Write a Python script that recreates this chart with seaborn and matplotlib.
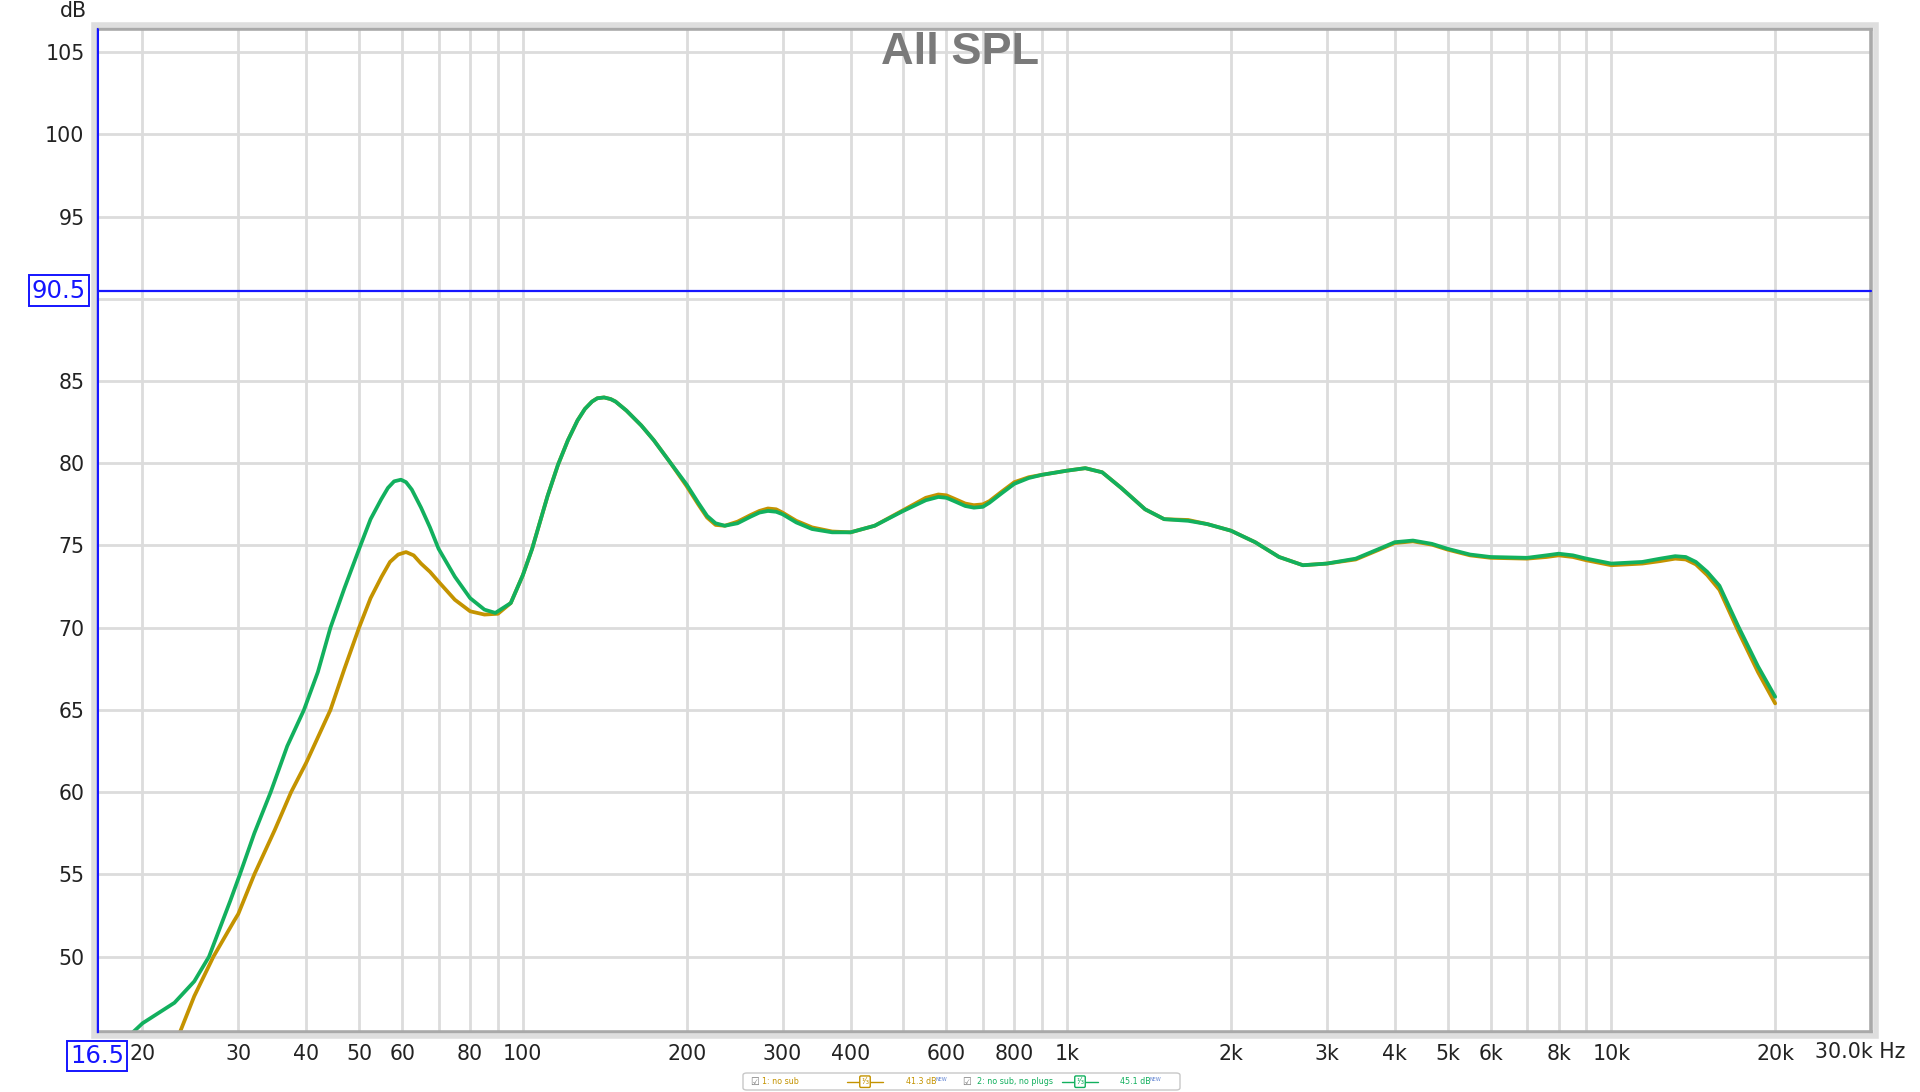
import numpy as np
import pandas as pd
import matplotlib
matplotlib.use("Agg")
import matplotlib.pyplot as plt
import matplotlib.ticker as mticker
from matplotlib import transforms
from matplotlib.patches import Rectangle, FancyBboxPatch
from matplotlib.lines import Line2D
import seaborn as sns

# ---------------- data ----------------
series_names = ["1: no sub", "2: no sub, no plugs"]

freq_orange_low = [23.3, 24.9, 27.0, 29.5, 30.0, 32.1, 35.0, 37.5, 40.0, 44.3, 47.0, 50.0,
                   52.5, 55.0, 57.0, 59.0, 61.0, 63.0, 65.0, 67.5, 70.0, 75.0, 80.0, 85.0,
                   90.0, 95.0]
spl_orange_low = [45.2, 47.6, 50.0, 52.2, 52.6, 55.0, 57.7, 60.0, 61.8, 65.0, 67.5, 70.0,
                  71.8, 73.1, 74.0, 74.45, 74.6, 74.4, 73.9, 73.4, 72.8, 71.7, 71.0, 70.8,
                  70.85, 71.5]

freq_green_low = [19.2, 20.0, 22.9, 24.9, 26.5, 29.0, 30.2, 32.1, 34.4, 36.9, 39.6, 42.0,
                  44.3, 47.0, 50.3, 52.5, 54.9, 56.5, 58.0, 59.7, 61.0, 62.5, 65.0, 67.5,
                  70.0, 75.0, 80.0, 85.0, 89.0, 95.0]
spl_green_low = [45.4, 45.95, 47.2, 48.5, 50.0, 53.4, 55.0, 57.5, 60.0, 62.8, 65.0, 67.3,
                 70.0, 72.4, 75.0, 76.6, 77.8, 78.5, 78.9, 79.0, 78.85, 78.4, 77.3, 76.1,
                 74.8, 73.1, 71.8, 71.1, 70.9, 71.5]

freq_high = [100, 104, 107, 111, 116, 121, 126, 130, 134, 137, 141, 145, 148, 155, 165, 174,
             186, 200, 210, 218, 226, 235, 248, 262, 272, 282, 292, 300, 318, 340, 370, 400,
             443, 500, 550, 580, 600, 620, 650, 674, 700, 720, 760, 800, 850, 900, 1000, 1080,
             1160, 1257, 1391, 1508, 1669, 1810, 2000, 2216, 2452, 2712, 3000, 3391, 3747,
             4000, 4320, 4680, 5000, 5500, 6000, 7000, 7600, 8000, 8500, 9000, 10000, 11400,
             12300, 13100, 13700, 14300, 15000, 15800, 17100, 18600, 20000]
spl_green_high = [73.2, 74.8, 76.2, 78.0, 79.9, 81.4, 82.6, 83.3, 83.75, 83.95, 84.0, 83.9,
                  83.75, 83.2, 82.3, 81.4, 80.1, 78.7, 77.6, 76.8, 76.35, 76.2, 76.35, 76.75,
                  77.0, 77.1, 77.05, 76.9, 76.4, 76.0, 75.8, 75.8, 76.2, 77.1, 77.75, 77.95,
                  77.9, 77.7, 77.4, 77.3, 77.35, 77.6, 78.2, 78.75, 79.1, 79.3, 79.55, 79.7,
                  79.45, 78.5, 77.2, 76.6, 76.5, 76.3, 75.9, 75.2, 74.3, 73.8, 73.9, 74.2,
                  74.8, 75.2, 75.3, 75.1, 74.8, 74.45, 74.3, 74.25, 74.4, 74.5, 74.4, 74.2,
                  73.9, 74.0, 74.2, 74.35, 74.3, 74.0, 73.4, 72.55, 70.1, 67.65, 65.8]
spl_orange_high = [73.2, 74.8, 76.2, 78.0, 79.9, 81.4, 82.6, 83.3, 83.75, 83.95, 84.0, 83.9,
                   83.75, 83.2, 82.3, 81.4, 80.1, 78.6, 77.5, 76.7, 76.25, 76.2, 76.45, 76.85,
                   77.1, 77.25, 77.2, 77.0, 76.5, 76.1, 75.85, 75.8, 76.2, 77.15, 77.9, 78.1,
                   78.05, 77.85, 77.55, 77.45, 77.5, 77.7, 78.3, 78.85, 79.15, 79.3, 79.55, 79.7,
                   79.45, 78.5, 77.2, 76.6, 76.55, 76.3, 75.9, 75.2, 74.3, 73.8, 73.9, 74.15,
                   74.75, 75.15, 75.25, 75.05, 74.75, 74.4, 74.25, 74.2, 74.3, 74.4, 74.3, 74.1,
                   73.8, 73.9, 74.05, 74.2, 74.15, 73.85, 73.2, 72.3, 69.8, 67.3, 65.4]

x_tick_values = [20, 30, 40, 50, 60, 70, 80, 90, 100, 200, 300, 400, 500, 600, 700, 800, 900,
                 1000, 2000, 3000, 4000, 5000, 6000, 7000, 8000, 9000, 10000, 20000]
x_tick_labels = ["20", "30", "40", "50", "60", "", "80", "", "100", "200", "300", "400", "",
                 "600", "", "800", "", "1k", "2k", "3k", "4k", "5k", "6k", "", "8k", "", "10k", "20k"]
y_tick_values = [50, 55, 60, 65, 70, 75, 80, 85, 90, 95, 100, 105]
y_tick_labels = ["50", "55", "60", "65", "70", "75", "80", "85", "", "95", "100", "105"]

cursor_freq = 16.5
cursor_spl = 90.5
x_max = 30000
legend_offsets = ["41.3 dB", "45.1 dB"]

# ---------------- build frame ----------------
df = pd.concat([
    pd.DataFrame({"freq": freq_orange_low + freq_high,
                  "spl": spl_orange_low + spl_orange_high,
                  "series": series_names[0]}),
    pd.DataFrame({"freq": freq_green_low + freq_high,
                  "spl": spl_green_low + spl_green_high,
                  "series": series_names[1]}),
], ignore_index=True)

ORANGE = "#C49300"
GREEN = "#12B05E"
BLUE = "#1515FF"

sns.set_theme(style="white")
plt.rcParams["font.family"] = ["DejaVu Sans"]

W, H = 1920, 1092
fig = plt.figure(figsize=(W / 100, H / 100), dpi=100)
fig.patch.set_facecolor("white")


def fx(x):
    return x / W


def fy(y):
    return 1 - y / H


ax_left, ax_right, ax_top, ax_bot = 97, 1871, 29, 1031.7
ax = fig.add_axes([fx(ax_left), fy(ax_bot), (ax_right - ax_left) / W, (ax_bot - ax_top) / H])
ax.set_facecolor("white")

sns.lineplot(data=df, x="freq", y="spl", hue="series", hue_order=series_names,
             palette=[ORANGE, GREEN], estimator=None, sort=False, linewidth=2.7,
             legend=False, ax=ax, zorder=3)
for ln in ax.get_lines():
    ln.set_solid_joinstyle("round")
    ln.set_solid_capstyle("round")

ax.set_xscale("log")
ax.set_xlim(cursor_freq, x_max)
ax.set_ylim(45.44, 106.4)
ax.set_xticks(x_tick_values)
ax.set_xticklabels(x_tick_labels)
ax.xaxis.set_minor_locator(mticker.NullLocator())
ax.xaxis.set_minor_formatter(mticker.NullFormatter())
ax.set_yticks(y_tick_values)
ax.set_yticklabels(y_tick_labels)
ax.set_xlabel("")
ax.set_ylabel("")
ax.grid(True, which="major", color="#dcdcdc", linewidth=2.0, zorder=0)
ax.set_axisbelow(True)
ax.tick_params(axis="both", length=0, labelsize=14.8, colors="#222222")
ax.tick_params(axis="x", pad=9)
ax.tick_params(axis="y", pad=9)

for s in ax.spines.values():
    s.set_color("#a9a9a9")
    s.set_linewidth(2.6)
    s.set_zorder(5)

# soft shadow frame
fig.patches.append(Rectangle((fx(ax_left - 3), fy(ax_bot + 4)),
                             (ax_right - ax_left + 8) / W, (ax_bot - ax_top + 8) / H,
                             transform=fig.transFigure, fill=False, edgecolor="#dedede",
                             linewidth=4, zorder=0))

# cursors
ax.axhline(cursor_spl, color=BLUE, linewidth=1.6, zorder=6, clip_on=False)
ax.axvline(cursor_freq, color=BLUE, linewidth=2.2, zorder=6, clip_on=False)

tr_y = transforms.blended_transform_factory(fig.transFigure, ax.transData)
fig.text(fx(59), cursor_spl, f"{cursor_spl:.1f}", transform=tr_y, ha="center", va="center",
         fontsize=17.5, color=BLUE,
         bbox=dict(boxstyle="square,pad=0.14", facecolor="white", edgecolor=BLUE, linewidth=1.4))
tr_x = transforms.blended_transform_factory(ax.transData, fig.transFigure)
fig.text(cursor_freq, fy(1056), f"{cursor_freq:.1f}", transform=tr_x, ha="center", va="center",
         fontsize=17.5, color=BLUE,
         bbox=dict(boxstyle="square,pad=0.14", facecolor="white", edgecolor=BLUE, linewidth=1.4))

# axis unit labels
fig.text(fx(73), fy(11), "dB", ha="center", va="center", fontsize=14.8, color="#222222")
fig.text(fx(1815), fy(1052), "30.0k Hz", ha="left", va="center", fontsize=14.8, color="#222222")

# title
fig.text(0.5, fy(53), "All SPL", ha="center", va="center", fontsize=32.5, fontweight="bold",
         color="#7a7a7a", family=["Liberation Sans", "DejaVu Sans"], zorder=10)

# mini legend at bottom
fig.patches.append(FancyBboxPatch((fx(743), fy(1090)), (1180 - 743) / W, (1090 - 1073) / H,
                                  boxstyle="round,pad=0,rounding_size=0.002",
                                  transform=fig.transFigure, facecolor="white",
                                  edgecolor="#c8c8c8", linewidth=1.0))
ly = fy(1081.7)
items = [
    (750, 762, 853, 906, series_names[0], ORANGE, legend_offsets[0]),
    (962, 977, 1068, 1120, series_names[1], GREEN, legend_offsets[1]),
]
for cb_x, name_x, sm_x, off_x, name, col, off in items:
    fig.text(fx(cb_x), ly, "☑", ha="left", va="center", fontsize=7, color="#777777")
    fig.text(fx(name_x), ly, name, ha="left", va="center", fontsize=5.8, color=col)
    fig.lines.append(Line2D([fx(sm_x - 6), fx(sm_x + 30)], [ly, ly], transform=fig.transFigure,
                            color=col, linewidth=1.0))
    fig.text(fx(sm_x + 12), ly, "¹⁄₃", ha="center", va="center", fontsize=6, color=col,
             bbox=dict(boxstyle="round,pad=0.15", facecolor="white", edgecolor=col, linewidth=1.0))
    fig.text(fx(off_x), ly, off, ha="left", va="center", fontsize=5.8, color=col)
    fig.text(fx(off_x + 29), ly + 0.002, "NEW", ha="left", va="center", fontsize=3.5, color="#5a7fd0")

fig.savefig("out.png", dpi=100, facecolor="white")
